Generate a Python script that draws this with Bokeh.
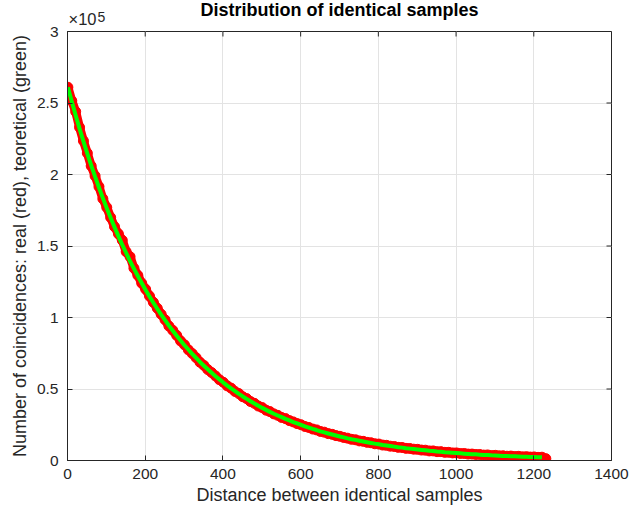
import numpy as np
from bokeh.plotting import figure
from bokeh.models import Range1d, FixedTicker, Label
from bokeh.embed import file_html
from bokeh.resources import INLINE

# ---- data (counts in thousands) ----
distance = [1, 11, 21, 31, 41, 51, 61, 71, 81, 91, 101, 111, 121, 131, 141, 151, 161, 171, 181, 191,
            201, 211, 221, 231, 241, 251, 261, 271, 281, 291, 301, 311, 321, 331, 341, 351, 361, 371, 381, 391,
            401, 411, 421, 431, 441, 451, 461, 471, 481, 491, 501, 511, 521, 531, 541, 551, 561, 571, 581, 591,
            601, 611, 621, 631, 641, 651, 661, 671, 681, 691, 701, 711, 721, 731, 741, 751, 761, 771, 781, 791,
            801, 811, 821, 831, 841, 851, 861, 871, 881, 891, 901, 911, 921, 931, 941, 951, 961, 971, 981, 991,
            1001, 1011, 1021, 1031, 1041, 1051, 1061, 1071, 1081, 1091, 1101, 1111, 1121, 1131, 1141, 1151,
            1161, 1171, 1181, 1191, 1201, 1211, 1221, 1231]

real_k = [261.0, 251.5, 244.0, 233.0, 223.5, 215.0, 206.0, 199.0, 191.5, 183.0, 177.0, 170.0, 163.5, 158.5,
          154.0, 146.0, 142.5, 134.5, 129.5, 124.0, 119.8, 115.0, 110.6, 106.5, 102.3, 98.4, 94.0, 91.0, 87.5,
          83.6, 80.9, 77.4, 74.8, 71.9, 68.7, 66.5, 63.6, 61.5, 59.1, 56.5, 54.7, 52.2, 50.6, 48.3, 46.8, 44.6,
          43.3, 41.2, 40.0, 38.1, 37.0, 35.2, 34.2, 32.6, 31.6, 30.1, 29.3, 27.9, 27.0, 25.8, 25.0, 23.8, 23.1,
          22.0, 21.4, 20.3, 19.8, 18.8, 18.3, 17.4, 16.9, 16.1, 15.6, 14.8, 14.5, 13.7, 13.4, 12.7, 12.4, 11.7,
          11.5, 10.8, 10.6, 10.0, 9.8, 9.2, 9.1, 8.5, 8.4, 7.9, 7.8, 7.3, 7.2, 6.7, 6.7, 6.2, 6.2, 5.7, 5.7,
          5.3, 5.3, 4.9, 4.9, 4.5, 4.5, 4.2, 4.2, 3.8, 3.9, 3.5, 3.6, 3.3, 3.3, 3.0, 3.1, 2.8, 2.9, 2.6, 2.7,
          2.4, 2.5, 2.2, 2.3, 1.3]

theory_k = [261.0, 251.0, 241.4, 232.1, 223.2, 214.6, 206.4, 198.5, 190.9, 183.5, 176.5, 169.7, 163.2, 156.9,
            150.9, 145.1, 139.5, 134.2, 129.0, 124.1, 119.3, 114.7, 110.3, 106.1, 102.0, 98.1, 94.3, 90.7, 87.2,
            83.9, 80.6, 77.6, 74.6, 71.7, 68.9, 66.3, 63.8, 61.3, 58.9, 56.7, 54.5, 52.4, 50.4, 48.5, 46.6, 44.8,
            43.1, 41.4, 39.8, 38.3, 36.8, 35.4, 34.0, 32.7, 31.5, 30.3, 29.1, 28.0, 26.9, 25.9, 24.9, 23.9, 23.0,
            22.1, 21.3, 20.4, 19.7, 18.9, 18.2, 17.5, 16.8, 16.2, 15.5, 14.9, 14.4, 13.8, 13.3, 12.8, 12.3, 11.8,
            11.4, 10.9, 10.5, 10.1, 9.7, 9.3, 9.0, 8.6, 8.3, 8.0, 7.7, 7.4, 7.1, 6.8, 6.6, 6.3, 6.1, 5.8, 5.6,
            5.4, 5.2, 5.0, 4.8, 4.6, 4.4, 4.3, 4.1, 3.9, 3.8, 3.6, 3.5, 3.4, 3.2, 3.1, 3.0, 2.9, 2.8, 2.7, 2.6,
            2.5, 2.4, 2.3, 2.2]

x_ticks = [0, 200, 400, 600, 800, 1000, 1200, 1400]
y_ticks = [0, 50000, 100000, 150000, 200000, 250000, 300000]
y_tick_labels = ["0", "0.5", "1", "1.5", "2", "2.5", "3"]
X_MAX = 1400
Y_MAX = 300000

real = np.array(real_k) * 1000.0
theory = np.array(theory_k) * 1000.0
x_real = np.array(distance)
x_theory = np.array(distance[:len(theory_k)])

FONT = "Liberation Sans"
DARK = "#262626"

p = figure(width=629, height=514, output_backend="svg", toolbar_location=None,
           x_range=Range1d(0, X_MAX), y_range=Range1d(0, Y_MAX),
           min_border_left=67, min_border_right=18, min_border_top=31, min_border_bottom=54,
           background_fill_color="white", border_fill_color="white")

p.outline_line_color = DARK
p.outline_line_width = 1

for ax in (p.xaxis[0], p.yaxis[0]):
    ax.major_tick_in = 5
    ax.major_tick_out = 0
    ax.minor_tick_line_color = None
    ax.axis_line_color = DARK
    ax.major_tick_line_color = DARK
    ax.major_label_text_color = DARK
    ax.major_label_text_font = FONT
    ax.major_label_text_font_size = "15.5px"
    ax.axis_label_text_font = FONT
    ax.axis_label_text_font_size = "18px"
    ax.axis_label_text_font_style = "normal"
    ax.axis_label_text_color = DARK

p.xaxis.ticker = FixedTicker(ticks=x_ticks)
p.yaxis.ticker = FixedTicker(ticks=y_ticks)
p.yaxis.major_label_overrides = {t: l for t, l in zip(y_ticks, y_tick_labels)}
p.xaxis.axis_label = "Distance between identical samples"
p.yaxis.axis_label = "Number of coincidences: real (red), teoretical (green)"
p.xaxis.major_label_standoff = 8
p.yaxis.major_label_standoff = 9
p.xaxis.axis_label_standoff = 3
p.yaxis.axis_label_standoff = 4

p.xgrid.ticker = FixedTicker(ticks=x_ticks)
p.ygrid.ticker = FixedTicker(ticks=y_ticks)
p.grid.grid_line_color = "#e3e3e3"
p.grid.grid_line_width = 1

# title (negative standoff so it shares the top band with the exponent)
p.title.text = "Distribution of identical samples"
p.title.align = "center"
p.title.text_font = FONT
p.title.text_font_size = "18px"
p.title.text_font_style = "bold"
p.title.text_color = "black"
p.title.standoff = -12

# real data (red) and theory (green)
p.line(x_real, real, line_color="#ff0000", line_width=9, line_join="round", line_cap="round")
p.scatter(x_real, real, marker="circle", size=10, fill_color="#ff0000", line_color="#ff0000")
p.line(x_theory, theory, line_color="#00ff00", line_width=4, line_join="round")

# box ticks on top and right edges (inward)
p.ray(x=x_ticks, y=[Y_MAX] * len(x_ticks), length=5, length_units="screen",
      angle=-np.pi / 2, line_color=DARK, line_width=1)
p.ray(x=[X_MAX] * len(y_ticks), y=y_ticks, length=5, length_units="screen",
      angle=np.pi, line_color=DARK, line_width=1)

# exponent label (x10^5) above the y axis
p.add_layout(Label(x=1, y=13, x_units="screen", y_units="screen", text="\u00d710",
                   text_align="left", text_baseline="alphabetic", text_font=FONT,
                   text_font_size="16.5px", text_color=DARK), "above")
p.add_layout(Label(x=-514, y=444, x_units="screen", y_units="screen", text="5",
                   text_align="left", text_baseline="alphabetic", text_font=FONT,
                   text_font_size="14px", text_color=DARK), "right")

open("out.html", "w").write(file_html(p, INLINE))
